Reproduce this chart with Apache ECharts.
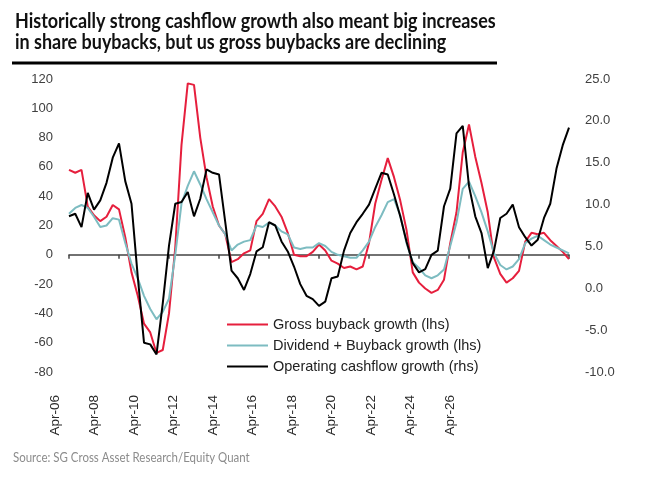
<!DOCTYPE html>
<html>
<head>
<meta charset="utf-8">
<title>Buybacks vs cashflow growth</title>
<script src="https://cdn.jsdelivr.net/npm/echarts@6/dist/echarts.min.js"></script>
<style>
  html, body { margin: 0; padding: 0; background: #fff; }
  #e_chart_1 { width: 659px; height: 478px; }
</style>
</head>
<body>
<div id="e_chart_1"></div>
<script>
// quarterly points, Apr-06 .. Apr-26
var quarters = [];
var months = ['Jan', 'Apr', 'Jul', 'Oct'];
for (var y = 2006; y <= 2026; y++) {
  for (var m = 0; m < 4; m++) {
    if ((y === 2006 && m === 0) || (y === 2026 && m > 1)) continue;
    quarters.push(months[m] + '-' + String(y).slice(2));
  }
}

var tickLabels = ['Apr-06', 'Apr-08', 'Apr-10', 'Apr-12', 'Apr-14', 'Apr-16',
  'Apr-18', 'Apr-20', 'Apr-22', 'Apr-24', 'Apr-26'];

// Gross buyback growth (lhs, %)
var grossBuyback = [58, 56, 58, 33, 27, 23, 26, 34, 31, 12, -12, -28, -47, -53, -67, -65,
  -40, 5, 75, 117, 116, 80, 53, 33, 20, 14, -5, -3, 1, 3, 23, 28,
  38, 33, 26, 15, 0, -1, -1, 2, 7, 3, -4, -6, -9, -8, -10, -8,
  8, 35, 51, 66, 53, 37, 17, -12, -19, -23, -26, -24, -17, 8, 29, 70,
  89, 67, 49, 29, -2, -13, -19, -16, -11, 9, 15, 14, 15, 10, 6, 2, -3];

// Dividend + Buyback growth (lhs, %)
var divBuyback = [28, 32, 34, 32, 26, 19, 20, 25, 24, 8, -6, -16, -28, -37, -44, -39,
  -30, 0, 35, 47, 57, 48, 38, 29, 20, 14, 3, 7, 9, 10, 20, 19,
  22, 20, 16, 14, 5, 4, 5, 5, 8, 6, 2, 0, -1, -2, -2, 3,
  9, 19, 27, 36, 38, 27, 8, -5, -9, -14, -16, -14, -10, 6, 22, 45,
  50, 40, 29, 16, 1, -7, -10, -8, -3, 8, 11, 13, 10, 7, 5, 3, 1];

// Operating cashflow growth (rhs, %)
var opCashflow = [8.6, 8.9, 7.3, 11.4, 9.4, 10.5, 12.6, 15.6, 17.3, 12.8, 10.1, 1.4, -6.5, -6.7, -7.9, -1.8,
  5.1, 10.1, 10.3, 11.5, 8.6, 10.7, 14.2, 13.8, 13.6, 7.9, 2.1, 1.2, -0.2, 1.7, 4.4, 4.9,
  7.9, 7.5, 5.6, 4.4, 2.6, 0.5, -0.9, -1.3, -2.1, -1.6, 1.2, 1.4, 4.5, 6.6, 7.9, 8.9,
  10.0, 11.9, 13.8, 13.6, 11.2, 8.6, 5.6, 3.0, 1.9, 2.3, 4.0, 4.5, 9.8, 11.9, 18.5, 19.4,
  12.2, 8.6, 6.6, 2.4, 4.5, 8.4, 8.9, 10.0, 7.3, 6.1, 5.1, 5.8, 8.4, 10.1, 14.3, 17.1, 19.2];

var seriesNames = ['Gross buyback growth (lhs)', 'Dividend + Buyback growth (lhs)', 'Operating cashflow growth (rhs)'];
var colors = ['#e61f3d', '#7dbcc1', '#000000'];

var titleText = 'Historically strong cashflow growth also meant big increases\nin share buybacks, but us gross buybacks are declining';
var sourceText = 'Source: SG Cross Asset Research/Equity Quant';


//------------chart

var eChart_1 = echarts.init(document.getElementById('e_chart_1'));
var axisFont = { color: '#404040', fontFamily: "'Liberation Sans', Arial, sans-serif", fontSize: 13 };

var option = {
  animation: false,
  color: colors,
  // title and source are set in a condensed face, squeeze Lato a bit
  graphic: [{
    type: 'text',
    x: 15,
    y: 11,
    scaleX: 0.855,
    style: {
      text: titleText,
      fill: '#111',
      fontFamily: "Lato, 'Noto Sans', sans-serif",
      fontWeight: 'bold',
      fontSize: 21,
      lineHeight: 21
    }
  }, {
    type: 'line',
    shape: { x1: 12, y1: 63, x2: 497, y2: 63 },
    style: { stroke: '#000', lineWidth: 3 }
  }, {
    type: 'text',
    x: 13,
    y: 451,
    scaleX: 0.85,
    style: {
      text: sourceText,
      fill: '#8c8c8c',
      fontFamily: "Lato, 'Noto Sans', sans-serif",
      fontSize: 13.5
    }
  }],
  legend: {
    orient: 'vertical',
    left: 222,
    top: 312,
    icon: 'rect',
    itemWidth: 41,
    itemHeight: 2,
    itemGap: 6,
    data: seriesNames,
    textStyle: { color: '#222', fontFamily: "'Liberation Sans', Arial, sans-serif", fontSize: 14.5 }
  },
  grid: [
    { left: 69, right: 90, top: 79, bottom: 106 },
    { left: 55, right: 209, top: 79, bottom: 106 }
  ],
  xAxis: [{
    type: 'category',
    gridIndex: 0,
    data: quarters,
    boundaryGap: false,
    axisLine: { onZero: true, onZeroAxisIndex: 0, lineStyle: { color: '#444', width: 1.5 } },
    axisTick: { interval: 7, length: 4, lineStyle: { color: '#444', width: 1.5 } },
    axisLabel: { show: false },
    splitLine: { show: false }
  }, {
    // tick labels sit on their own spacing in the source picture
    type: 'category',
    gridIndex: 1,
    data: tickLabels,
    boundaryGap: false,
    axisLine: { show: false, onZero: false },
    axisTick: { show: false },
    axisLabel: Object.assign({ rotate: 90, margin: 23, interval: 0 }, axisFont, { fontSize: 13.5, color: '#2a2a2a' }),
    splitLine: { show: false }
  }],
  yAxis: [{
    type: 'value',
    gridIndex: 0,
    min: -80,
    max: 120,
    interval: 20,
    axisLine: { show: false },
    axisTick: { show: false },
    axisLabel: Object.assign({ margin: 16 }, axisFont),
    splitLine: { show: false }
  }, {
    type: 'value',
    gridIndex: 0,
    position: 'right',
    min: -10,
    max: 25,
    interval: 5,
    axisLine: { show: false },
    axisTick: { show: false },
    axisLabel: Object.assign({
      margin: 16,
      formatter: function (v) { return v.toFixed(1); }
    }, axisFont),
    splitLine: { show: false }
  }, {
    type: 'value',
    gridIndex: 1,
    show: false
  }],
  series: [{
    name: seriesNames[0],
    type: 'line',
    data: grossBuyback,
    showSymbol: false,
    lineStyle: { width: 2 }
  }, {
    name: seriesNames[1],
    type: 'line',
    data: divBuyback,
    showSymbol: false,
    lineStyle: { width: 2 }
  }, {
    name: seriesNames[2],
    type: 'line',
    yAxisIndex: 1,
    data: opCashflow,
    showSymbol: false,
    lineStyle: { width: 2 }
  }]
};

eChart_1.setOption(option);
</script>
</body>
</html>
